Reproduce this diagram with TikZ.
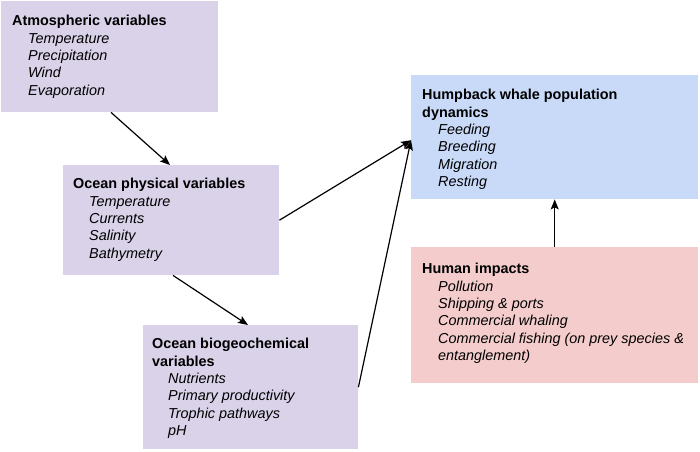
\documentclass[tikz,border=0pt]{standalone}
\usepackage{fontspec}
\setmainfont{Liberation Sans}
\usetikzlibrary{arrows.meta}
\definecolor{lav}{HTML}{D9D2E9}
\definecolor{lblue}{HTML}{C9DAF8}
\definecolor{lred}{HTML}{F4CCCC}
\tikzset{
  box/.style={rectangle, draw=none, inner sep=0pt, anchor=north west},
  txt/.style={anchor=north west, inner sep=0pt, align=left, font=\fontsize{14.4}{17.4}\selectfont},
  arr/.style={line width=1.2pt, -{Stealth[length=10pt,width=8pt,inset=2pt]}},
}
\newcommand{\itm}[1]{\hspace*{16pt}\textit{#1}}
\begin{document}
\begin{tikzpicture}[x=1pt,y=-1pt]
\useasboundingbox (0,0) rectangle (700,451);
\node[box, fill=lav, minimum width=217pt, minimum height=111pt] (atm) at (1,1) {};
\node[box, fill=lav, minimum width=216pt, minimum height=110pt] (phys) at (63,165) {};
\node[box, fill=lav, minimum width=215pt, minimum height=124pt] (bio) at (143,325) {};
\node[box, fill=lblue, minimum width=287pt, minimum height=124pt] (whale) at (411,75) {};
\node[box, fill=lred, minimum width=287pt, minimum height=136pt] (human) at (411,247) {};

\node[txt] (atmT) at (12,15) {\textbf{Atmospheric variables}\\\itm{Temperature}\\\itm{Precipitation}\\\itm{Wind}\\\itm{Evaporation}};
\node[txt] (physT) at (73,178) {\textbf{Ocean physical variables}\\\itm{Temperature}\\\itm{Currents}\\\itm{Salinity}\\\itm{Bathymetry}};
\node[txt] (bioT) at (152,338) {\textbf{Ocean biogeochemical}\\\textbf{variables}\\\itm{Nutrients}\\\itm{Primary productivity}\\\itm{Trophic pathways}\\\itm{pH}};
\node[txt] (whaleT) at (422,89) {\textbf{Humpback whale population}\\\textbf{dynamics}\\\itm{Feeding}\\\itm{Breeding}\\\itm{Migration}\\\itm{Resting}};
\node[txt] (humanT) at (422,263) {\textbf{Human impacts}\\\itm{Pollution}\\\itm{Shipping \& ports}\\\itm{Commercial whaling}\\\itm{Commercial fishing (on prey species \&}\\\itm{entanglement)}};

\draw[arr] ([xshift=110pt]atm.south west) -- ([xshift=107pt]phys.north west);
\draw[arr] ([xshift=110pt]phys.south west) -- ([xshift=105pt]bio.north west);
\draw[arr] (phys.east) -- ([yshift=-3pt]whale.west);
\draw[arr] (bio.east) -- ([yshift=-3pt]whale.west);
\draw[arr] (human.north) -- (whale.south);
\end{tikzpicture}
\end{document}
